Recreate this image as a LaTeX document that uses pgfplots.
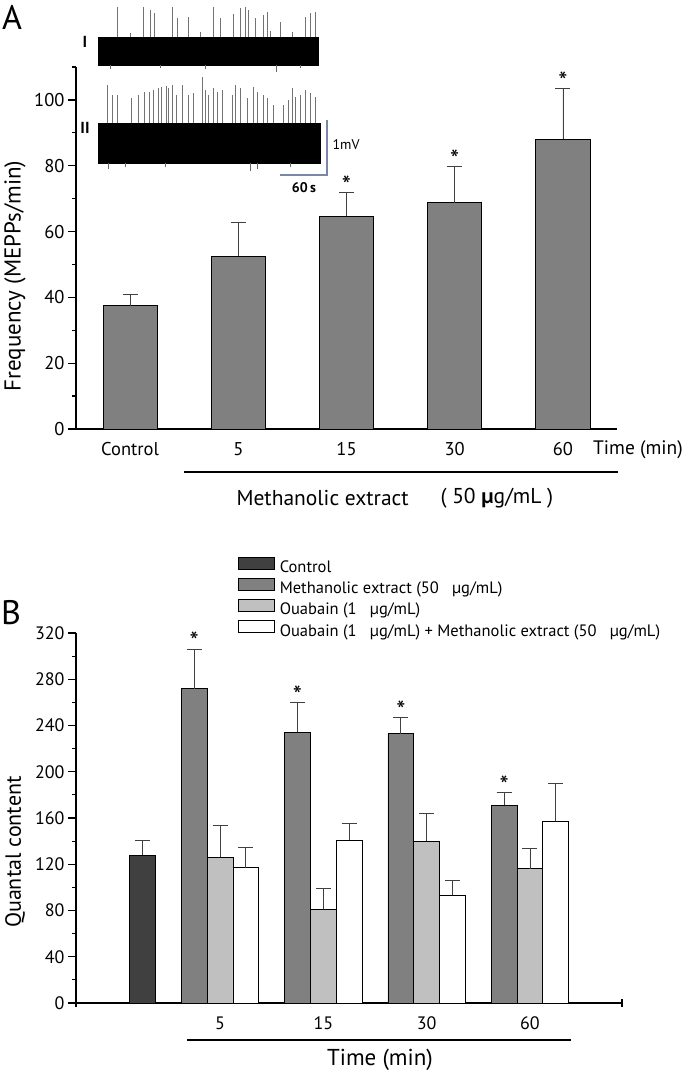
\documentclass[border=0pt]{standalone}
\usepackage{pgfplots}
\pgfplotsset{compat=1.18}
\usepackage{fontspec}
\setmainfont{PT Sans}
\definecolor{cctrl}{HTML}{404040}
\definecolor{cme}{HTML}{808080}
\definecolor{coua}{HTML}{C0C0C0}
\definecolor{scalebar}{HTML}{7B86A8}
\pgfplotsset{
  boxlegend/.style={legend image code/.code={\draw[##1, line width=0.8pt] (0pt,-0.5pt) rectangle (36pt,11.5pt);}},
  errs/.style={error bars/y dir=plus, error bars/y explicit,
     error bars/error mark options={rotate=90, mark size=7.5pt, line width=0.7pt, draw=black!75},
     error bars/error bar style={line width=0.7pt, draw=black!75}},
  mybar/.style={ybar, bar shift=0pt, draw=black, line width=0.8pt},
  stars/.style={ybar, bar shift=0pt, draw=none, fill=none, forget plot,
     nodes near coords={*}, nodes near coords style={font=\fontsize{26}{28}\selectfont, anchor=south, inner sep=0pt, yshift=-2pt}},
}
\begin{document}
\begin{tikzpicture}
\useasboundingbox (0,0) rectangle (685pt,-1073pt);
% ---------------- Panel A ----------------
\begin{axis}[
  at={(76pt,-429pt)}, anchor=south west, scale only axis,
  width=541pt, height=362pt,
  xmin=-0.5, xmax=4.5, ymin=0, ymax=110,
  axis x line*=bottom, axis y line*=left,
  x axis line style={-, line width=2pt},
  y axis line style={-, line width=1.4pt},
  ytick={0,20,...,100}, minor ytick={10,30,...,110},
  xtick={0,1,2,3,4}, xticklabels={Control,5,15,30,60},
  x tick style={draw=none},
  y tick style={line width=1.2pt, black},
  tick align=outside, major tick length=8pt, minor tick length=4pt,
  ticklabel style={font=\fontsize{18.5}{21}\selectfont},
  /pgf/number format/assume math mode=true,
  xticklabel style={yshift=-2pt},
  clip=false,
]
\addplot[mybar, fill=cme, bar width=0.5, errs] coordinates {
  (0,37.5) +- (0,3.4)
  (1,52.5) +- (0,10.2)
  (2,64.6) +- (0,7.3)
  (3,68.8) +- (0,11.0)
  (4,88.1) +- (0,15.3)
};
\addplot[stars, bar width=0.5] coordinates {(2,71.9) (3,79.8) (4,103.4)};
\end{axis}
% ---------------- Panel B ----------------
\begin{axis}[
  at={(76pt,-1003pt)}, anchor=south west, scale only axis,
  width=546pt, height=370pt,
  xmin=-0.394, xmax=4.891, ymin=0, ymax=320,
  axis x line*=bottom, axis y line*=left,
  x axis line style={-, line width=2pt},
  y axis line style={-, line width=1.4pt},
  ytick={0,40,...,320}, minor ytick={20,60,...,300},
  xtick={1,2,3,4}, xticklabels={5,15,30,60},
  x tick style={draw=none},
  extra x ticks={-0.394,4.891}, extra x tick labels={},
  extra x tick style={tick align=center, x tick style={draw=black, line width=1.2pt}},
  y tick style={line width=1.2pt, black},
  tick align=outside, major tick length=8pt, minor tick length=4pt,
  ticklabel style={font=\fontsize{18}{21}\selectfont},
  /pgf/number format/assume math mode=true,
  xticklabel style={yshift=-2pt},
  clip=false,
  legend cell align=left,
  legend style={at={(axis description cs:0.2967,1.2055)}, anchor=north west,
    draw=none, fill=none, inner sep=0pt, outer sep=0pt,
    font=\fontsize{16.5}{19}\selectfont,
    nodes={inner sep=0pt, text height=11.5pt, text depth=4pt},
    row sep=1.5pt,
    /tikz/every odd column/.append style={column sep=5pt}},
]
\addplot[mybar, fill=cctrl, bar width=0.25, errs, boxlegend] coordinates {
  (0.25,128) +- (0,13)
};
\addlegendentry{Control}
\addplot[mybar, fill=cme, bar width=0.25, errs, boxlegend] coordinates {
  (0.75,272) +- (0,34)
  (1.75,234) +- (0,26)
  (2.75,233) +- (0,14)
  (3.75,171) +- (0,11)
};
\addlegendentry{Methanolic extract (50\ \ \ µg/mL)}
\addplot[mybar, fill=coua, bar width=0.25, errs, boxlegend] coordinates {
  (1,126) +- (0,28)
  (2,81) +- (0,18)
  (3,140) +- (0,24)
  (4,116) +- (0,18)
};
\addlegendentry{Ouabain (1\ \ \ µg/mL)}
\addplot[mybar, fill=white, bar width=0.25, errs, boxlegend] coordinates {
  (1.25,117) +- (0,18)
  (2.25,141) +- (0,14)
  (3.25,93) +- (0,13)
  (4.25,157) +- (0,33)
};
\addlegendentry{Ouabain (1\ \ \ µg/mL) + Methanolic extract (50\ \ \ µg/mL)}
\addplot[stars, bar width=0.25] coordinates {(0.75,306) (1.75,260) (2.75,247) (3.75,182)};
\end{axis}
% ---------------- Overlay (pixel frame) ----------------
\begin{axis}[
  at={(0pt,-1073pt)}, anchor=south west, scale only axis,
  width=685pt, height=1073pt,
  xmin=0, xmax=685, ymin=-1073, ymax=0,
  hide axis, clip=false,
]
% trace I
\addplot[fill=black, draw=black, line width=0.5pt] coordinates {(98,-37) (318,-37) (318,-65) (98,-65)} -- cycle;
\addplot[draw=none, mark=none, error bars/.cd, y dir=plus, y explicit, error mark=none,
  error bar style={draw=black!55, line width=0.6pt}] coordinates {
  (117,-37) +- (0,30) (143,-37) +- (0,30) (150,-37) +- (0,27) (154,-37) +- (0,24)
  (172,-37) +- (0,30) (177,-37) +- (0,19) (188,-37) +- (0,20) (213,-37) +- (0,30)
  (220,-37) +- (0,19) (233,-37) +- (0,23) (240,-37) +- (0,29) (245,-37) +- (0,30)
  (248,-37) +- (0,27) (255,-37) +- (0,19) (263,-37) +- (0,22) (267,-37) +- (0,25)
  (280,-37) +- (0,15) (305,-37) +- (0,20) (310,-37) +- (0,24) (315,-37) +- (0,25)
  (130,-37) +- (0,4) (200,-37) +- (0,5) (270,-37) +- (0,6) (292,-37) +- (0,5)
};
\addplot[draw=none, mark=none, error bars/.cd, y dir=minus, y explicit, error mark=none,
  error bar style={draw=black!60, line width=0.6pt}] coordinates {
  (110,-65) +- (0,4) (160,-65) +- (0,3) (205,-65) +- (0,4) (276,-65) +- (0,7) (300,-65) +- (0,3)
};
% trace II
\addplot[fill=black, draw=black, line width=0.5pt] coordinates {(98,-123) (320,-123) (320,-163) (98,-163)} -- cycle;
\addplot[draw=none, mark=none, error bars/.cd, y dir=plus, y explicit, error mark=none,
  error bar style={draw=black!55, line width=0.6pt}] coordinates {
  (107,-123) +- (0,38) (112,-123) +- (0,28) (117,-123) +- (0,28) (131,-123) +- (0,25)
  (138,-123) +- (0,28) (144,-123) +- (0,31) (149,-123) +- (0,31) (153,-123) +- (0,33)
  (158,-123) +- (0,35) (161,-123) +- (0,36) (166,-123) +- (0,37) (168,-123) +- (0,35)
  (172,-123) +- (0,38) (176,-123) +- (0,28) (182,-123) +- (0,38) (188,-123) +- (0,28)
  (193,-123) +- (0,30) (202,-123) +- (0,46) (205,-123) +- (0,33) (208,-123) +- (0,28)
  (213,-123) +- (0,35) (217,-123) +- (0,31) (222,-123) +- (0,33) (232,-123) +- (0,28)
  (235,-123) +- (0,38) (240,-123) +- (0,35) (247,-123) +- (0,25) (253,-123) +- (0,36)
  (257,-123) +- (0,31) (263,-123) +- (0,28) (267,-123) +- (0,25) (273,-123) +- (0,18)
  (283,-123) +- (0,18) (288,-123) +- (0,23) (292,-123) +- (0,35) (295,-123) +- (0,26)
  (300,-123) +- (0,28) (305,-123) +- (0,33) (310,-123) +- (0,30) (315,-123) +- (0,26)
};
\addplot[draw=none, mark=none, error bars/.cd, y dir=minus, y explicit, error mark=none,
  error bar style={draw=black!60, line width=0.6pt}] coordinates {
  (108,-163) +- (0,6) (125,-163) +- (0,4) (165,-163) +- (0,4) (250,-163) +- (0,8) (257,-163) +- (0,6) (290,-163) +- (0,4)
};
% scale bar
\addplot[draw=scalebar, line width=1.2pt, mark=none] coordinates {(327,-120) (327,-175) (280,-175)};
\node[anchor=west, font=\fontsize{14}{16}\selectfont] at (axis cs:329,-145) {1mV};
\node[font=\bfseries\fontsize{14}{16}\selectfont] at (axis cs:304,-188) {60\,s};
\node[font=\bfseries\fontsize{16}{18}\selectfont] at (axis cs:85,-42) {I};
\node[font=\bfseries\fontsize{16}{18}\selectfont] at (axis cs:85,-128) {II};
% panel letters
\node[font=\fontsize{34}{36}\selectfont] at (axis cs:12,-17) {A};
\node[font=\fontsize{34}{36}\selectfont] at (axis cs:11,-613) {B};
% axis labels
\node[rotate=90, font=\fontsize{23}{25}\selectfont] at (axis cs:15,-276) {Frequency (MEPPs/min)};
\node[rotate=90, font=\fontsize{22}{24}\selectfont] at (axis cs:15,-852) {Quantal content};
% panel A extras
\node[anchor=east, inner sep=1pt, font=\fontsize{19.5}{22}\selectfont] at (axis cs:684,-450) {Time (min)};
\addplot[draw=black, line width=1.5pt, mark=none] coordinates {(184,-472) (618,-472)};
\node[anchor=west, font=\fontsize{21.5}{23}\selectfont] at (axis cs:233,-498) {Methanolic extract};
\node[anchor=west, font=\fontsize{21.5}{23}\selectfont] at (axis cs:437,-498) {( 50 {\bfseries µ}g/mL )};
% panel B extras
\addplot[draw=black, line width=1.5pt, mark=none] coordinates {(187,-1040) (571,-1040)};
\node[font=\fontsize{23}{25}\selectfont] at (axis cs:380,-1060) {Time (min)};
\end{axis}
\end{tikzpicture}
\end{document}
